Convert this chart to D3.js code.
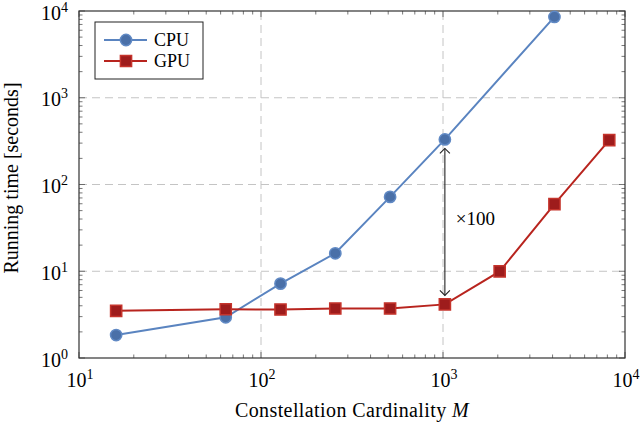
<!DOCTYPE html>
<html>
<head>
<meta charset="utf-8">
<script src="https://cdn.jsdelivr.net/npm/d3@7"></script>
<style>
  body { margin: 0; background: #fff; }
  text { font-family: "Liberation Serif", "DejaVu Serif", serif; fill: #000; }
</style>
</head>
<body>
<div id="container"></div>
<script>
/* CONSTANTS AND GLOBALS */
const width = 640,
      height = 422,
      margin = {top: 11, bottom: 64, left: 79, right: 15};

/* DATA */
const cpuM    = [16, 64, 128, 256, 512, 1024, 4096];
const cpuTime = [1.84, 2.95, 7.2, 16.1, 72, 331, 8550];
const gpuM    = [16, 64, 128, 256, 512, 1024, 2048, 4096, 8192];
const gpuTime = [3.5, 3.65, 3.62, 3.72, 3.72, 4.15, 9.95, 59.5, 325];
const xDecades = [10, 100, 1000, 10000];
const yDecades = [1, 10, 100, 1000, 10000];
const speedupLabel = "×100";

const cpu = cpuM.map((m, i) => ({m, t: cpuTime[i]}));
const gpu = gpuM.map((m, i) => ({m, t: gpuTime[i]}));

/* SCALES */
const xScale = d3.scaleLog()
                 .domain([10, 10000])
                 .range([margin.left, width - margin.right]);

const yScale = d3.scaleLog()
                 .domain([1, 10000])
                 .range([height - margin.bottom, margin.top]);

const svg = d3.select("#container")
              .append("svg")
              .attr("width", width)
              .attr("height", height);

const x0 = margin.left, x1 = width - margin.right,
      y0 = height - margin.bottom, y1 = margin.top;

// minor tick values
const minors = dec => {
  const out = [];
  for (let i = 0; i < dec.length - 1; i++)
    for (let k = 2; k < 10; k++) out.push(dec[i] * k);
  return out;
};

// grid
svg.append("g").selectAll("line")
   .data(xDecades.slice(1, -1))
   .join("line")
   .attr("x1", d => xScale(d)).attr("x2", d => xScale(d))
   .attr("y1", y0).attr("y2", y1)
   .attr("stroke", "#c4c4c4").attr("stroke-width", 1)
   .attr("stroke-dasharray", "8,5");

svg.append("g").selectAll("line")
   .data(yDecades.slice(1, -1))
   .join("line")
   .attr("y1", d => yScale(d)).attr("y2", d => yScale(d))
   .attr("x1", x0).attr("x2", x1)
   .attr("stroke", "#c4c4c4").attr("stroke-width", 1)
   .attr("stroke-dasharray", "8,5");

// ticks inside on all four sides
const tickG = svg.append("g").attr("stroke", "#555").attr("stroke-width", 0.8);
const xt = [...xDecades.map(v => ({v, len: 6})), ...minors(xDecades).map(v => ({v, len: 3.5}))];
const yt = [...yDecades.map(v => ({v, len: 6})), ...minors(yDecades).map(v => ({v, len: 3.5}))];
xt.forEach(d => {
  const x = xScale(d.v);
  tickG.append("line").attr("x1", x).attr("x2", x).attr("y1", y0).attr("y2", y0 - d.len);
  tickG.append("line").attr("x1", x).attr("x2", x).attr("y1", y1).attr("y2", y1 + d.len);
});
yt.forEach(d => {
  const y = yScale(d.v);
  tickG.append("line").attr("y1", y).attr("y2", y).attr("x1", x0).attr("x2", x0 + d.len);
  tickG.append("line").attr("y1", y).attr("y2", y).attr("x1", x1).attr("x2", x1 - d.len);
});

// frame
svg.append("rect")
   .attr("x", x0).attr("y", y1)
   .attr("width", x1 - x0).attr("height", y0 - y1)
   .attr("fill", "none").attr("stroke", "#333").attr("stroke-width", 1.2);

// tick labels 10^n
const expLabel = (sel, v) => {
  sel.append("tspan").text("10");
  sel.append("tspan").attr("dy", -8).attr("font-size", 14).text(Math.round(Math.log10(v)));
};
svg.append("g").selectAll("text")
   .data(xDecades)
   .join("text")
   .attr("x", d => xScale(d) + 1)
   .attr("y", 387)
   .attr("text-anchor", "middle")
   .attr("font-size", 20)
   .each(function(d) { expLabel(d3.select(this), d); });

svg.append("g").selectAll("text")
   .data(yDecades)
   .join("text")
   .attr("x", x0 - 11)
   .attr("y", d => yScale(d) + 8.5)
   .attr("text-anchor", "end")
   .attr("font-size", 20)
   .each(function(d) { expLabel(d3.select(this), d); });

// axis titles
const xt2 = svg.append("text")
   .attr("x", 352)
   .attr("y", 417)
   .attr("text-anchor", "middle")
   .attr("font-size", 20)
   .attr("letter-spacing", 0.4);
xt2.append("tspan").text("Constellation Cardinality ");
xt2.append("tspan").attr("font-style", "italic").text("M");

svg.append("text")
   .attr("transform", `translate(17.5, 178) rotate(-90)`)
   .attr("text-anchor", "middle")
   .attr("font-size", 20)
   .text("Running time [seconds]");

// series
const series = [
  {name: "CPU", data: cpu, line: "#5a84c0", fill: "#4a70a8", stroke: "#6089c4", shape: d3.symbolCircle, size: 100},
  {name: "GPU", data: gpu, line: "#b8241e", fill: "#9e1c1c", stroke: "#c5342c", shape: d3.symbolSquare, size: 125}
];

const line = d3.line().x(d => xScale(d.m)).y(d => yScale(d.t));

series.forEach(s => {
  svg.append("path")
     .datum(s.data)
     .attr("d", line)
     .attr("fill", "none")
     .attr("stroke", s.line)
     .attr("stroke-width", 2);
  svg.append("g").selectAll("path")
     .data(s.data)
     .join("path")
     .attr("transform", d => `translate(${xScale(d.m)},${yScale(d.t)})`)
     .attr("d", d3.symbol().type(s.shape).size(s.size))
     .attr("fill", s.fill)
     .attr("stroke", s.stroke)
     .attr("stroke-width", 1.5);
});

// speed-up arrow at M = 1024
const ax = xScale(1024);
const aTop = yScale(cpuTime[5]) + 9;
const aBot = yScale(gpuTime[5]) - 9;
const arrow = svg.append("g").attr("stroke", "#222").attr("fill", "none").attr("stroke-width", 1.1);
arrow.append("line").attr("x1", ax).attr("x2", ax).attr("y1", aTop).attr("y2", aBot);
arrow.append("path").attr("d", `M${ax - 5},${aTop + 5} Q${ax - 1},${aTop + 1} ${ax},${aTop} Q${ax + 1},${aTop + 1} ${ax + 5},${aTop + 5}`);
arrow.append("path").attr("d", `M${ax - 5},${aBot - 5} Q${ax - 1},${aBot - 1} ${ax},${aBot} Q${ax + 1},${aBot - 1} ${ax + 5},${aBot - 5}`);

svg.append("text")
   .attr("x", ax + 11)
   .attr("y", 225)
   .attr("font-size", 19)
   .text(speedupLabel);

// legend
const lg = svg.append("g").attr("transform", "translate(95,22)");
lg.append("rect")
  .attr("width", 108).attr("height", 57)
  .attr("fill", "#fff").attr("stroke", "#222").attr("stroke-width", 1);
series.forEach((s, i) => {
  const y = 18 + i * 21;
  lg.append("line").attr("x1", 9).attr("x2", 52).attr("y1", y).attr("y2", y)
    .attr("stroke", s.line).attr("stroke-width", 2);
  lg.append("path")
    .attr("transform", `translate(31,${y})`)
    .attr("d", d3.symbol().type(s.shape).size(s.size))
    .attr("fill", s.fill).attr("stroke", s.stroke).attr("stroke-width", 1.5);
  lg.append("text").attr("x", 59).attr("y", y + 6)
    .attr("font-size", 18).text(s.name);
});
</script>
</body>
</html>
